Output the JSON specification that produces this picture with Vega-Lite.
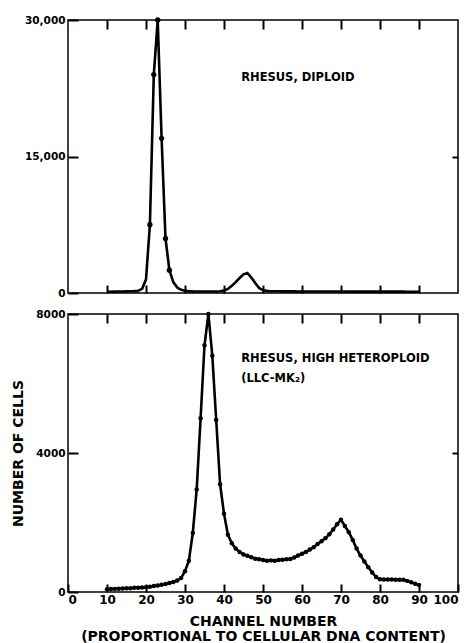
{
  "$schema": "https://vega.github.io/schema/vega-lite/v6.json",
  "background": "white",
  "padding": {"left": 11, "top": 14, "right": 11, "bottom": 0},
  "datasets": {
    "diploid": [
      {"channel":10,"cells":150},{"channel":11,"cells":140},{"channel":12,"cells":150},{"channel":13,"cells":160},{"channel":14,"cells":170},
      {"channel":15,"cells":180},{"channel":16,"cells":190},{"channel":17,"cells":210},{"channel":18,"cells":250},{"channel":19,"cells":450},
      {"channel":20,"cells":1500},{"channel":21,"cells":7500},{"channel":22,"cells":24000},{"channel":23,"cells":30000},{"channel":24,"cells":17000},
      {"channel":25,"cells":6000},{"channel":26,"cells":2500},{"channel":27,"cells":1200},{"channel":28,"cells":600},{"channel":29,"cells":350},
      {"channel":30,"cells":250},{"channel":31,"cells":200},{"channel":32,"cells":180},{"channel":33,"cells":170},{"channel":34,"cells":160},
      {"channel":35,"cells":160},{"channel":36,"cells":160},{"channel":37,"cells":160},{"channel":38,"cells":170},{"channel":39,"cells":190},
      {"channel":40,"cells":260},{"channel":41,"cells":450},{"channel":42,"cells":800},{"channel":43,"cells":1200},{"channel":44,"cells":1650},
      {"channel":45,"cells":2050},{"channel":46,"cells":2200},{"channel":47,"cells":1700},{"channel":48,"cells":1100},{"channel":49,"cells":550},
      {"channel":50,"cells":300},{"channel":51,"cells":230},{"channel":52,"cells":200},{"channel":53,"cells":190},{"channel":54,"cells":190},
      {"channel":55,"cells":180},{"channel":56,"cells":180},{"channel":57,"cells":180},{"channel":58,"cells":180},{"channel":59,"cells":170},
      {"channel":60,"cells":170},{"channel":61,"cells":170},{"channel":62,"cells":170},{"channel":63,"cells":170},{"channel":64,"cells":170},
      {"channel":65,"cells":160},{"channel":66,"cells":160},{"channel":67,"cells":160},{"channel":68,"cells":160},{"channel":69,"cells":160},
      {"channel":70,"cells":160},{"channel":71,"cells":160},{"channel":72,"cells":150},{"channel":73,"cells":150},{"channel":74,"cells":150},
      {"channel":75,"cells":150},{"channel":76,"cells":150},{"channel":77,"cells":150},{"channel":78,"cells":150},{"channel":79,"cells":150},
      {"channel":80,"cells":150},{"channel":81,"cells":150},{"channel":82,"cells":150},{"channel":83,"cells":150},{"channel":84,"cells":150},
      {"channel":85,"cells":150},{"channel":86,"cells":150},{"channel":87,"cells":140},{"channel":88,"cells":140},{"channel":89,"cells":140},
      {"channel":90,"cells":140}
    ],
    "heteroploid": [
      {"channel":10,"cells":80},{"channel":11,"cells":85},{"channel":12,"cells":90},{"channel":13,"cells":95},{"channel":14,"cells":100},
      {"channel":15,"cells":105},{"channel":16,"cells":110},{"channel":17,"cells":120},{"channel":18,"cells":125},{"channel":19,"cells":130},
      {"channel":20,"cells":140},{"channel":21,"cells":150},{"channel":22,"cells":170},{"channel":23,"cells":190},{"channel":24,"cells":210},
      {"channel":25,"cells":230},{"channel":26,"cells":260},{"channel":27,"cells":290},{"channel":28,"cells":330},{"channel":29,"cells":400},
      {"channel":30,"cells":600},{"channel":31,"cells":900},{"channel":32,"cells":1700},{"channel":33,"cells":2950},{"channel":34,"cells":5000},
      {"channel":35,"cells":7100},{"channel":36,"cells":8000},{"channel":37,"cells":6800},{"channel":38,"cells":4950},{"channel":39,"cells":3100},
      {"channel":40,"cells":2250},{"channel":41,"cells":1650},{"channel":42,"cells":1400},{"channel":43,"cells":1250},{"channel":44,"cells":1150},
      {"channel":45,"cells":1080},{"channel":46,"cells":1040},{"channel":47,"cells":1000},{"channel":48,"cells":960},{"channel":49,"cells":940},
      {"channel":50,"cells":920},{"channel":51,"cells":900},{"channel":52,"cells":910},{"channel":53,"cells":900},{"channel":54,"cells":920},
      {"channel":55,"cells":930},{"channel":56,"cells":940},{"channel":57,"cells":950},{"channel":58,"cells":990},{"channel":59,"cells":1050},
      {"channel":60,"cells":1100},{"channel":61,"cells":1150},{"channel":62,"cells":1220},{"channel":63,"cells":1290},{"channel":64,"cells":1380},
      {"channel":65,"cells":1460},{"channel":66,"cells":1550},{"channel":67,"cells":1660},{"channel":68,"cells":1800},{"channel":69,"cells":1950},
      {"channel":70,"cells":2080},{"channel":71,"cells":1900},{"channel":72,"cells":1720},{"channel":73,"cells":1500},{"channel":74,"cells":1250},
      {"channel":75,"cells":1050},{"channel":76,"cells":880},{"channel":77,"cells":710},{"channel":78,"cells":560},{"channel":79,"cells":430},
      {"channel":80,"cells":370},{"channel":81,"cells":360},{"channel":82,"cells":360},{"channel":83,"cells":360},{"channel":84,"cells":355},
      {"channel":85,"cells":350},{"channel":86,"cells":350},{"channel":87,"cells":320},{"channel":88,"cells":280},{"channel":89,"cells":240},
      {"channel":90,"cells":200}
    ]
  },
  "spacing": 8,
  "vconcat": [
    {
      "width": 390,
      "height": 273,
      "data": {"name": "diploid"},
      "layer": [
        {
          "mark": {"type": "line", "color": "black", "strokeWidth": 2.6},
          "encoding": {
            "x": {"field": "channel", "type": "quantitative", "scale": {"domain": [0, 100], "nice": false, "zero": false},
                  "axis": {"orient": "bottom", "values": [10,20,30,40,50,60,70,80,90], "labels": false, "ticks": true, "tickColor": "black", "tickWidth": 2, "tickSize": -8, "title": null}},
            "y": {"field": "cells", "type": "quantitative", "scale": {"domain": [0, 30000], "nice": false},
                  "axis": {"orient": "left", "values": [0, 15000, 30000], "format": ",d", "ticks": true, "tickColor": "black", "tickWidth": 2, "tickSize": -10, "labelPadding": 13, "labelFontSize": 10.5, "title": null}}
          }
        },
        {
          "transform": [{"filter": "datum.channel >= 21 && datum.channel <= 26"}],
          "mark": {"type": "point", "filled": true, "color": "black", "opacity": 1, "size": 28},
          "encoding": {
            "x": {"field": "channel", "type": "quantitative",
                  "axis": {"orient": "top", "values": [10,20,30,40,50,60,70,80,90], "labels": false, "ticks": true, "tickColor": "black", "tickWidth": 2, "tickSize": -9, "title": null}},
            "y": {"field": "cells", "type": "quantitative",
                  "axis": {"orient": "right", "values": [15000], "labels": false, "ticks": true, "tickColor": "black", "tickWidth": 2, "tickSize": -6, "title": null}}
          }
        },
        {
          "data": {"values": [{}]},
          "mark": {"type": "text", "align": "left", "baseline": "middle", "font": "DejaVu Sans", "fontWeight": "bold", "fontSize": 11.5, "color": "black"},
          "encoding": {
            "x": {"datum": 44.4, "type": "quantitative", "axis": null},
            "y": {"datum": 23600, "type": "quantitative", "axis": null},
            "text": {"value": "RHESUS, DIPLOID"}
          }
        }
      ],
      "resolve": {"axis": {"x": "independent", "y": "independent"}}
    },
    {
      "width": 390,
      "height": 278,
      "data": {"name": "heteroploid"},
      "layer": [
        {
          "mark": {"type": "line", "color": "black", "strokeWidth": 2.6},
          "encoding": {
            "x": {"field": "channel", "type": "quantitative", "scale": {"domain": [0, 100], "nice": false, "zero": false},
                  "axis": {"orient": "bottom", "values": [0,10,20,30,40,50,60,70,80,90,100], "ticks": true, "tickColor": "black", "tickWidth": 2, "tickSize": -8, "labelPadding": 10, "labelFontSize": 12,
                           "title": ["CHANNEL NUMBER", "(PROPORTIONAL TO CELLULAR DNA CONTENT)"], "titleFontSize": 14, "titleLineHeight": 15, "titlePadding": 9}},
            "y": {"field": "cells", "type": "quantitative", "scale": {"domain": [0, 8000], "nice": false},
                  "axis": {"orient": "left", "values": [0, 4000, 8000], "format": "d", "ticks": true, "tickColor": "black", "tickWidth": 2, "tickSize": -10, "labelPadding": 13, "labelFontSize": 10.5,
                           "title": "NUMBER OF CELLS", "titleFontSize": 14, "titlePadding": 10}}
          }
        },
        {
          "mark": {"type": "point", "filled": true, "color": "black", "opacity": 1, "size": 20},
          "encoding": {
            "x": {"field": "channel", "type": "quantitative",
                  "axis": {"orient": "top", "values": [10,20,30,40,50,60,70,80,90], "labels": false, "ticks": true, "tickColor": "black", "tickWidth": 2, "tickSize": -9, "title": null}},
            "y": {"field": "cells", "type": "quantitative",
                  "axis": {"orient": "right", "values": [4000], "labels": false, "ticks": true, "tickColor": "black", "tickWidth": 2, "tickSize": -6, "title": null}}
          }
        },
        {
          "data": {"values": [{}]},
          "mark": {"type": "text", "align": "left", "baseline": "top", "lineHeight": 20, "font": "DejaVu Sans", "fontWeight": "bold", "fontSize": 11.5, "color": "black"},
          "encoding": {
            "x": {"datum": 44.4, "type": "quantitative", "axis": null},
            "y": {"datum": 6870, "type": "quantitative", "axis": null},
            "text": {"value": ["RHESUS, HIGH HETEROPLOID", "(LLC-MK₂)"]}
          }
        }
      ],
      "resolve": {"axis": {"x": "independent", "y": "independent"}}
    }
  ],
  "config": {
    "view": {"stroke": "black", "strokeWidth": 1.5},
    "axis": {
      "domain": false, "grid": false,
      "labelFont": "DejaVu Sans", "labelFontWeight": "bold", "labelColor": "black",
      "titleFont": "DejaVu Sans", "titleFontWeight": "bold", "titleColor": "black"
    }
  }
}
